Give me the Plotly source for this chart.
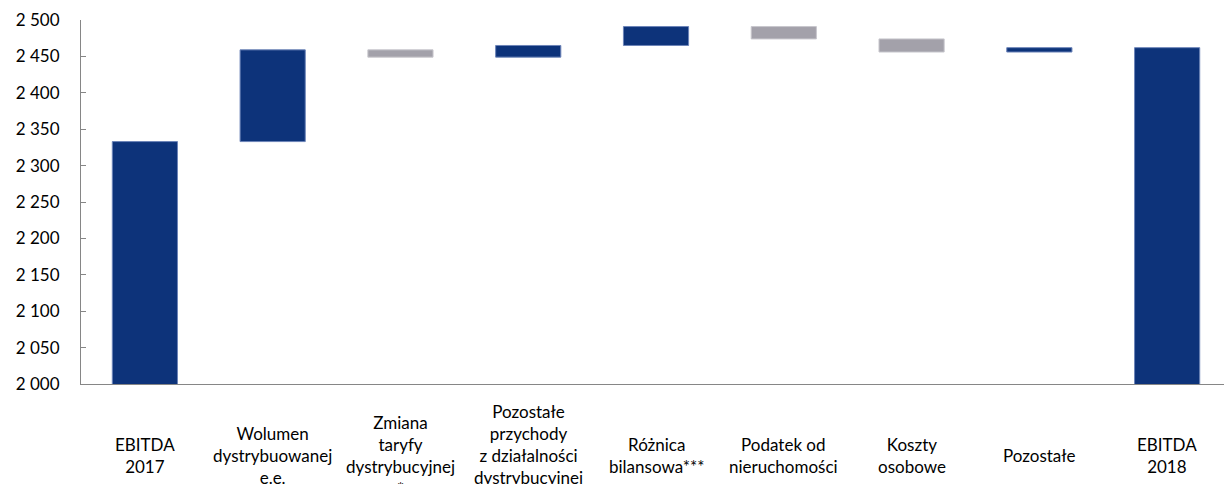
import plotly.graph_objects as go

categories = ["EBITDA<br>2017", "Wolumen<br>dystrybuowanej<br>e.e.", "Zmiana<br>taryfy<br>dystrybucyjnej<br>*",
              "Pozostałe<br>przychody<br>z działalności<br>dystrybucyjnej<br>**", "Różnica<br>bilansowa***",
              "Podatek od<br>nieruchomości", "Koszty<br>osobowe", "Pozostałe", "EBITDA<br>2018"]
measures = ["absolute", "relative", "relative", "relative", "relative", "relative", "relative", "relative", "total"]
values = [2333, 126, -10, 16, 26, -17, -18, 6, 0]
y_ticks = [2000, 2050, 2100, 2150, 2200, 2250, 2300, 2350, 2400, 2450, 2500]

BLUE = "#0D337A"
GRAY = "#A3A1AA"
FONT = "Lato"

xs = list(range(len(categories)))

fig = go.Figure(go.Waterfall(
    x=xs, y=values, measure=measures,
    increasing=dict(marker=dict(color=BLUE, line=dict(color="#6C84B8", width=1))),
    decreasing=dict(marker=dict(color=GRAY, line=dict(color="#C8C7CD", width=1))),
    totals=dict(marker=dict(color=BLUE, line=dict(color="#6C84B8", width=1))),
    connector=dict(visible=False),
    hoverinfo="skip",
))

annotations = [dict(x=i, y=-0.196, xref="x", yref="paper", text=c, showarrow=False,
                    yanchor="middle", xanchor="center", align="center",
                    font=dict(family=FONT, size=17, color="#000000"))
               for i, c in enumerate(categories)]

fig.update_layout(
    width=1224, height=484,
    margin=dict(l=81, r=0, t=20, b=100, autoexpand=False),
    paper_bgcolor="white", plot_bgcolor="white",
    showlegend=False,
    waterfallgap=0.49,
    font=dict(family=FONT, size=16, color="#000000"),
    annotations=annotations,
    xaxis=dict(range=[-0.5, 8.445], showticklabels=False, showgrid=False, zeroline=False,
               showline=True, linecolor="#868686", linewidth=1, ticks=""),
    yaxis=dict(range=[2000, 2500], tickvals=y_ticks,
               ticktext=[f"{v:,}".replace(",", " ") for v in y_ticks],
               showgrid=False, zeroline=False, showline=True, linecolor="#868686", linewidth=1,
               ticks="inside", ticklen=5, tickcolor="#868686", ticklabelstandoff=17,
               tickfont=dict(family=FONT, size=17, color="#000000")),
)

fig.write_html("out.html", config={"displayModeBar": False},
               post_script="document.body.style.margin='0';document.body.style.overflow='hidden';")
